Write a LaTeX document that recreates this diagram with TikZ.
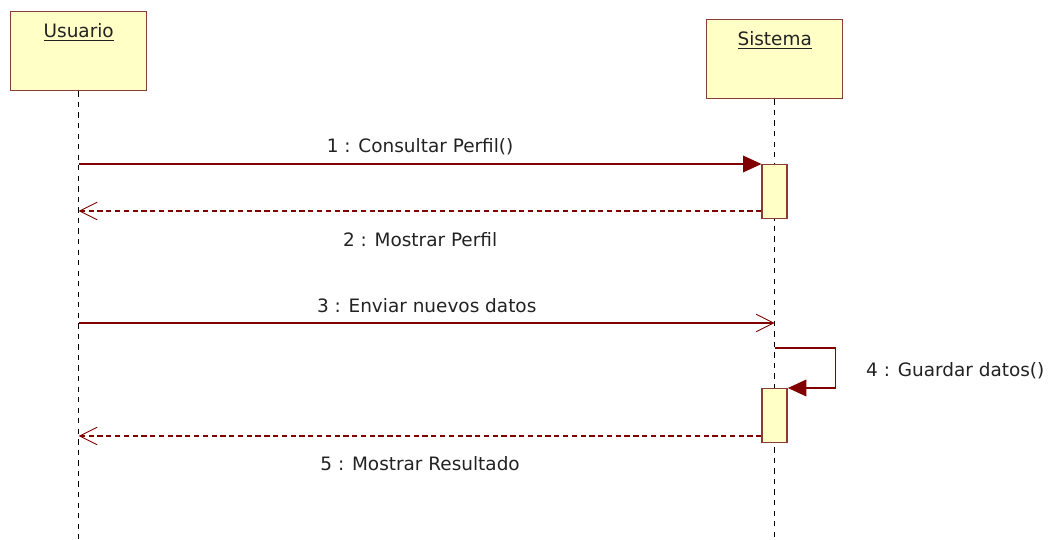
\documentclass[tikz,border=0pt]{standalone}
\usepackage{fontspec}
\setmainfont{DejaVu Sans}
\usetikzlibrary{positioning, arrows.meta}

\definecolor{linea}{HTML}{800000}
\definecolor{caja}{HTML}{FFFFC6}
\definecolor{borde}{HTML}{8B3A3A}
\definecolor{texto}{HTML}{222222}

\begin{document}
\begin{tikzpicture}[x=0.02cm, y=-0.02cm, font=\fontsize{10.5}{12}\selectfont,
	objeto/.style={draw=borde, fill=caja, line width=0.8pt, minimum width=2.72cm, minimum height=1.58cm, anchor=north west, inner sep=0},
	activa/.style={draw=borde, fill=caja, line width=0.8pt, minimum width=0.5cm, minimum height=1.08cm, anchor=north, inner sep=0},
	etiqueta/.style={text=texto, inner sep=0},
	vida/.style={dash pattern=on 3pt off 3pt, line width=0.6pt},
	llamada/.style={linea, line width=0.7pt, -{Triangle[length=10.5pt, width=9.5pt]}},
	envio/.style={linea, line width=0.7pt, -{Straight Barb[length=10pt, width=10pt, line width=0.5pt]}},
	retorno/.style={linea, line width=0.7pt, dash pattern=on 3pt off 2pt, -{Straight Barb[length=10pt, width=10pt, line width=0.5pt]}}]
			\useasboundingbox (0,0) rectangle (1059,540);
			
			% Objetos
			\node[objeto] (usuario) at (10,11) {};
			\node[etiqueta, below=7pt of usuario.north, anchor=north] (usuarioT) {\underline{Usuario}};
			\node[objeto] (sistema) at (706,19) {};
			\node[etiqueta, below=7pt of sistema.north, anchor=north] (sistemaT) {\underline{Sistema}};
			
			% Lineas de vida
			\coordinate (usuarioF) at (usuario.south |- 0,540);
			\coordinate (sistemaF) at (sistema.south |- 0,540);
			\draw[vida] (usuario.south) -- (usuarioF);
			\draw[vida] (sistema.south) -- (sistemaF);
			
			% Activaciones
			\node[activa] (act1) at (sistema.south |- 0,164) {};
			\node[activa] (act2) at (sistema.south |- 0,388) {};
			
			% 1 y 2
			\coordinate (m1) at (usuario.south |- act1.north);
			\draw[llamada] (m1) -- (act1.north west) node[etiqueta, midway, yshift=10pt] (t1) {1 : Consultar Perfil()};
			\coordinate (m2) at (usuario.south |- 0,211);
			\draw[retorno] (act1.west |- m2) -- (m2) node[etiqueta, midway, yshift=-16.4pt] (t2) {2 : Mostrar Perfil};
			
			% 3
			\coordinate (m3) at (usuario.south |- 0,323);
			\coordinate (m3f) at (sistema.south |- m3);
			\draw[envio] (m3) -- (m3f) node[etiqueta, midway, yshift=10pt] (t3) {3 : Enviar nuevos datos};
			
			% 4 (a si mismo)
			\coordinate (m4) at (sistema.south |- 0,348);
			\draw[llamada] (m4) -- ++(61,0) |- (act2.north east) node[etiqueta, pos=0.28, right=17pt] (t4) {4 : Guardar datos()};
			
			% 5
			\coordinate (m5) at (usuario.south |- 0,436);
			\draw[retorno] (act2.west |- m5) -- (m5) node[etiqueta, midway, yshift=-15.9pt] (t5) {5 : Mostrar Resultado};
			\end{tikzpicture}
\end{document}
